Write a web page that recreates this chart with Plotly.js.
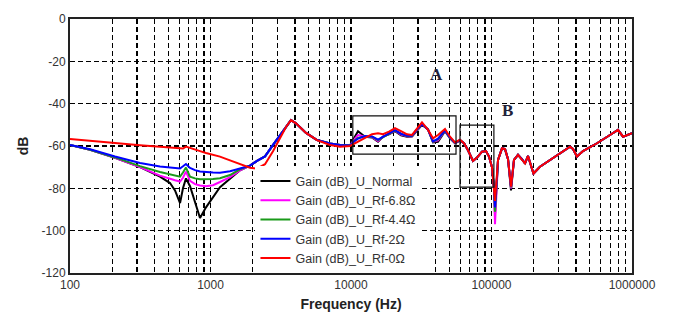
<!DOCTYPE html>
<html>
<head>
<meta charset="utf-8">
<script src="https://cdn.plot.ly/plotly-3.0.1.min.js"></script>
<style>html,body{margin:0;padding:0;background:#fff;}#chart{width:677px;height:320px;}</style>
</head>
<body>
<div id="chart"></div>
<script>
// Frequency points (Hz)
const freq = [100,139,209,315,437,515,559,607,637,669,715,776,842,929,1042,1168,1377,1622,1910,2143,2443,2785,3124,3447,3741,4060,4783,5728,7088,8351,9837,
  10680,11215,12580,14110,15570,16900,18640,20570,22700,25040,27180,29500,32010,35320,38330,41610,46670,50650,54980,59670,
  63720,68050,73850,78860,85580,91400,96000,100800,104200,105900,111300,118800,124800,131100,137700,144600,154400,164900,173200,181900,
  199000,221400,260900,322800,362100,380300,406100,448000,563500,697300,795100,863000,1000000];

// Shared high-frequency tail (59.7 kHz .. 1 MHz), without the 105.9 kHz dip and the 137.7 kHz notch
const tailA = [-58.7,-62.0,-67.0,-65.5,-62.7,-62.4,-65.0,-70.0,-80.0];
const tailB = [-66.6,-61.1,-61.5,-66.2];
const tailC = [-66.6,-64.2,-66.2,-68.2,-64.7,-73.0,-69.8,-66.6,-62.7,-60.3,-61.4,-65.0,-62.4,-58.7,-54.8,-52.4,-55.6,-54.0];

const gainNormal = [-59.5,-61.8,-65.6,-70.0,-74.5,-77.5,-81.0,-87.0,-80.0,-75.3,-79.0,-87.0,-94.0,-89.0,-84.0,-79.5,-75.5,-71.5,-69.3,-67.0,-64.9,-59.5,-55.0,-51.0,-47.8,-49.3,-53.8,-57.2,-58.8,-59.5,-59.8,
  -55.5,-53.0,-55.6,-56.0,-58.0,-55.6,-54.5,-53.0,-55.0,-55.6,-55.5,-52.5,-50.0,-52.0,-58.3,-58.0,-53.0,-56.4,-58.7,-57.5]
  .concat(tailA,[-92.0],tailB,[-81.0],tailC);
const gainRf68 = [-59.5,-61.8,-65.6,-70.0,-74.0,-75.6,-76.2,-76.8,-75.0,-72.1,-76.5,-78.0,-78.7,-79.0,-78.5,-77.0,-74.7,-71.5,-69.3,-67.0,-64.9,-59.5,-55.0,-51.0,-47.8,-49.3,-53.8,-57.2,-58.8,-59.5,-59.8,
  -56.5,-54.8,-55.5,-55.8,-57.6,-55.7,-54.3,-52.8,-54.6,-55.4,-55.4,-52.3,-49.8,-52.1,-58.0,-57.3,-52.8,-56.2,-58.6,-57.4]
  .concat(tailA,[-97.0],tailB,[-80.0],tailC);
const gainRf44 = [-59.5,-61.8,-65.4,-69.5,-72.3,-73.5,-74.0,-74.5,-72.5,-70.2,-74.5,-75.3,-75.7,-75.8,-75.6,-75.2,-73.7,-71.0,-69.3,-67.0,-64.9,-59.5,-55.0,-51.0,-47.8,-49.3,-53.8,-57.2,-58.8,-59.5,-59.8,
  -57.3,-56.2,-55.4,-55.6,-57.2,-55.8,-54.1,-52.6,-54.3,-55.3,-55.3,-52.1,-49.6,-52.2,-57.9,-56.8,-52.7,-56.1,-58.5,-57.3]
  .concat(tailA,[-91.0],tailB,[-79.5],tailC);
const gainRf2 = [-59.5,-61.5,-65.0,-68.0,-69.7,-70.3,-70.5,-70.6,-69.6,-68.5,-70.4,-71.4,-72.0,-72.3,-72.5,-72.6,-71.9,-70.6,-69.3,-67.0,-64.9,-59.5,-55.0,-51.0,-47.8,-49.3,-53.8,-57.2,-58.8,-59.5,-59.8,
  -57.5,-56.5,-55.3,-55.5,-57.0,-55.8,-54.0,-52.5,-54.2,-55.2,-55.2,-52.0,-49.5,-52.3,-57.8,-56.5,-52.6,-56.0,-58.5,-57.2]
  .concat(tailA,[-89.0],tailB,[-79.3],tailC);
const gainRf0 = [-56.7,-57.4,-58.6,-59.6,-60.4,-60.8,-61.2,-61.4,-61.2,-60.3,-61.0,-61.8,-62.4,-63.3,-64.0,-65.0,-66.8,-68.5,-70.3,-70.7,-68.6,-62.5,-56.0,-51.0,-47.8,-49.3,-53.8,-57.2,-59.5,-60.3,-60.0,
  -58.7,-58.0,-56.4,-54.4,-54.0,-54.4,-53.2,-51.6,-53.0,-54.5,-54.8,-51.6,-48.8,-52.4,-56.4,-54.8,-52.0,-55.6,-58.3,-57.0]
  .concat(tailA,[-86.0],tailB,[-79.2],tailC);

const seriesNames = ['Gain (dB)_U_Normal','Gain (dB)_U_Rf-6.8\u03A9','Gain (dB)_U_Rf-4.4\u03A9','Gain (dB)_U_Rf-2\u03A9','Gain (dB)_U_Rf-0\u03A9'];
const seriesValues = [gainNormal, gainRf68, gainRf44, gainRf2, gainRf0];
const seriesColors = ['#000000','#ff00ff','#1a9a1a','#0000ff','#ff0000'];

const xTickVals = [100,1000,10000,100000,1000000];
const xTickText = ['100','1000','10000','100000','1000000'];
const yTickVals = [0,-20,-40,-60,-80,-100,-120];
const yTickText = ['0','-20','-40','-60','-80','-100','-120'];

// Highlight boxes [f0, f1, dB top, dB bottom]
const boxA = [10300, 55900, -45.8, -63.8];
const boxB = [59700, 104000, -50.1, -79.4];
const labelA = {text:'A', f:40900, db:-26};
const labelB = {text:'B', f:131000, db:-43};

const traces = seriesNames.map((n,i)=>({
  x: freq, y: seriesValues[i], name: n, type:'scatter', mode:'lines',
  line:{color: seriesColors[i], width: 2}
}));

const gridStyle = {showgrid:true, gridcolor:'#000', gridwidth:1.2, griddash:'5px,3px'};

const layout = {
  width:677, height:320,
  margin:{l:70, r:45, t:19, b:47},
  paper_bgcolor:'#fff', plot_bgcolor:'#fff',
  font:{family:'Liberation Sans, Arial, sans-serif', color:'#333', size:12},
  showlegend:true,
  legend:{x:0.33, y:0.42, xanchor:'left', yanchor:'top', bgcolor:'#fff', borderwidth:0,
          font:{size:12.5, color:'#333'}, tracegroupgap:0},
  xaxis:Object.assign({type:'log', range:[2,6], tickvals:xTickVals, ticktext:xTickText,
    showline:true, mirror:true, linecolor:'#222', linewidth:2, ticks:'', zeroline:false,
    tickfont:{size:12, color:'#333'},
    title:{text:'<b>Frequency (Hz)</b>', font:{size:14, color:'#222'}, standoff:8},
    minor:{dtick:'D1', showgrid:true, gridcolor:'#000', gridwidth:1.2, griddash:'5px,3px', ticks:''}
  }, gridStyle),
  yaxis:Object.assign({range:[-120,0], tickvals:yTickVals, ticktext:yTickText,
    showline:true, mirror:true, linecolor:'#222', linewidth:2, ticks:'', zeroline:false,
    tickfont:{size:12, color:'#333'},
    title:{text:'<b>dB</b>', font:{size:14, color:'#222'}, standoff:10}
  }, gridStyle),
  shapes:[
    {type:'rect', xref:'x', yref:'y', x0:boxA[0], x1:boxA[1], y0:boxA[2], y1:boxA[3], line:{color:'#111', width:1.2}},
    {type:'rect', xref:'x', yref:'y', x0:boxB[0], x1:boxB[1], y0:boxB[2], y1:boxB[3], line:{color:'#111', width:1.2}}
  ],
  annotations:[labelA,labelB].map(l=>({
    x:Math.log10(l.f), y:l.db, xref:'x', yref:'y', text:'<b>'+l.text+'</b>', showarrow:false,
    font:{family:'Liberation Serif, Times New Roman, serif', size:17, color:'#22223a'}
  }))
};

Plotly.newPlot('chart', traces, layout, {displayModeBar:false, staticPlot:true});
</script>
</body>
</html>
